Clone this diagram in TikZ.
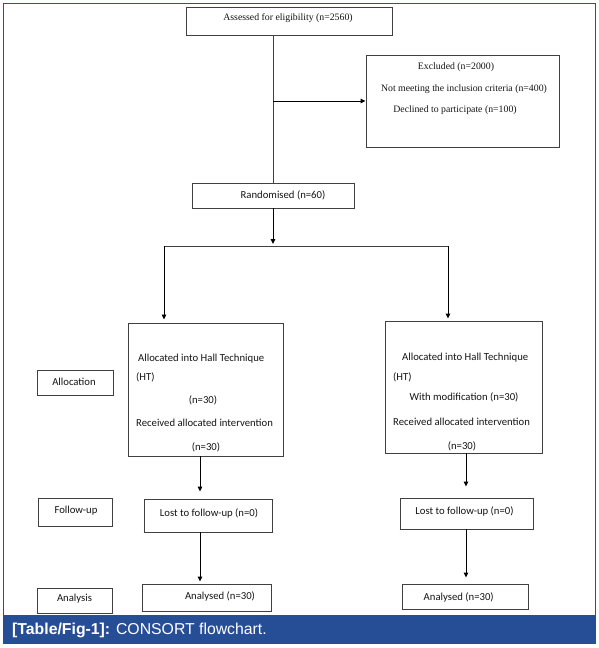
\documentclass[tikz,border=0pt]{standalone}
\usepackage{fontspec}
\setmainfont{Liberation Serif}
\newfontfamily\calib{Carlito}
\newfontfamily\arialf{Liberation Sans}
\usetikzlibrary{arrows.meta,calc}
\definecolor{framebl}{HTML}{2A4F92}
\definecolor{barbl}{HTML}{264E96}
\definecolor{ink}{HTML}{151515}
\definecolor{boxline}{HTML}{404040}
\begin{document}
\begin{tikzpicture}[x=1pt,y=-1pt,
  boxst/.style={draw=boxline,line width=0.9pt,inner sep=0pt},
  shade/.style={draw=boxline,line width=1.8pt},
  serif/.style={font=\fontsize{9.8}{11}\selectfont,text=ink,inner sep=0pt},
  cal/.style={font=\calib\fontsize{10.7}{12}\selectfont,text=ink,inner sep=0pt},
  arr/.style={draw=black,line width=0.9pt,-{Triangle[length=5pt,width=4.5pt]}},
  conn/.style={draw=boxline,line width=0.8pt}]
\useasboundingbox (0,0) rectangle (599,648);
\fill[white] (0,0) rectangle (599,648);
% frame and caption bar
\draw[framebl,line width=1pt] (3,3) rectangle (595,615);
\fill[barbl] (3,615) rectangle (596,644);
\node[anchor=west,font=\arialf\fontsize{15.8}{18}\selectfont,text=white,inner sep=0pt] (cap) at (12,630) {\textbf{[Table/Fig-1]:} CONSORT flowchart.};
% boxes
\node[boxst,minimum width=206,minimum height=28] (assess) at (289,21) {};
\node[boxst,minimum width=193,minimum height=92] (excl) at (462.5,101) {};
\node[boxst,minimum width=162,minimum height=25] (rand) at (273,195.5) {};
\node[boxst,minimum width=155,minimum height=133] (HTL) at (205.5,389.5) {};
\node[boxst,minimum width=157,minimum height=132] (HTR) at (463.5,387) {};
\node[boxst,minimum width=76,minimum height=25] (alloc) at (75,382.5) {};
\node[boxst,minimum width=74,minimum height=28] (follow) at (75.5,512) {};
\node[boxst,minimum width=75,minimum height=25] (analysis) at (74.5,600.5) {};
\node[boxst,minimum width=128,minimum height=33] (lostL) at (208,515.5) {};
\node[boxst,minimum width=133,minimum height=31] (lostR) at (466.5,513.5) {};
\node[boxst,minimum width=129,minimum height=27] (anL) at (206.5,597.5) {};
\node[boxst,minimum width=126,minimum height=25] (anR) at (465,596.5) {};
% heavier lower/right edges
\draw[shade] (lostL.south west) -- (lostL.south east) -- (lostL.north east);
\draw[shade] (lostR.south west) -- (lostR.south east);
\draw[shade] (anL.south west) -- (anL.south east);
\draw[shade] (follow.south west) -- (follow.south east);
% texts
\node[serif] (t1) at (288,18) {Assessed for eligibility (n=2560)};
\node[serif] (t2) at (456,67) {Excluded (n=2000)};
\node[serif] (t3) at (464,89) {Not meeting the inclusion criteria (n=400)};
\node[serif] (t4) at (455,110) {Declined to participate (n=100)};
\node[cal] (t5) at (283,195) {Randomised (n=60)};
\node[cal,anchor=west] (t6) at (138,359) {Allocated into Hall Technique};
\node[cal,anchor=west] (t7) at (136,377) {(HT)};
\node[cal] (t8) at (203,400) {(n=30)};
\node[cal,anchor=west] (t9) at (136,423) {Received allocated intervention};
\node[cal] (t10) at (206,447) {(n=30)};
\node[cal,anchor=west] (t11) at (402,358) {Allocated into Hall Technique};
\node[cal,anchor=west] (t12) at (393,377) {(HT)};
\node[cal] (t13) at (464,397) {With modification (n=30)};
\node[cal,anchor=west] (t14) at (393,422) {Received allocated intervention};
\node[cal] (t15) at (462,446) {(n=30)};
\node[cal] (t16) at (74,382) {Allocation};
\node[cal] (t17) at (76,511) {Follow-up};
\node[cal] (t18) at (74.5,599) {Analysis};
\node[cal] (t19) at (209,513) {Lost to follow-up (n=0)};
\node[cal] (t20) at (464.5,511) {Lost to follow-up (n=0)};
\node[cal] (t21) at (220,596) {Analysed (n=30)};
\node[cal] (t22) at (458.7,597) {Analysed (n=30)};
% connectors
\draw[conn] (assess.south -| rand.north) -- (rand.north);
\draw[arr] (rand.north |- excl.west) -- (excl.west);
\coordinate (brL) at (164,246);
\coordinate (brR) at (448,246);
\draw[arr,shorten >=2pt] (rand.south) -- (rand.south |- brL);
\draw[conn] (brL) -- (brR);
\draw[arr,shorten >=3pt] (brL) -- (brL |- HTL.north);
\draw[arr,shorten >=2pt] (brR) -- (brR |- HTR.north);
\coordinate (cL) at (200,0);
\coordinate (cR) at (466,0);
\draw[arr,shorten >=7pt] (HTL.south -| cL) -- (lostL.north -| cL);
\draw[arr,shorten >=2pt] (lostL.south -| cL) -- (anL.north -| cL);
\draw[arr,shorten >=11pt] (HTR.south -| cR) -- (lostR.north -| cR);
\draw[arr,shorten >=6pt] (lostR.south -| cR) -- (anR.north -| cR);
\end{tikzpicture}
\end{document}
